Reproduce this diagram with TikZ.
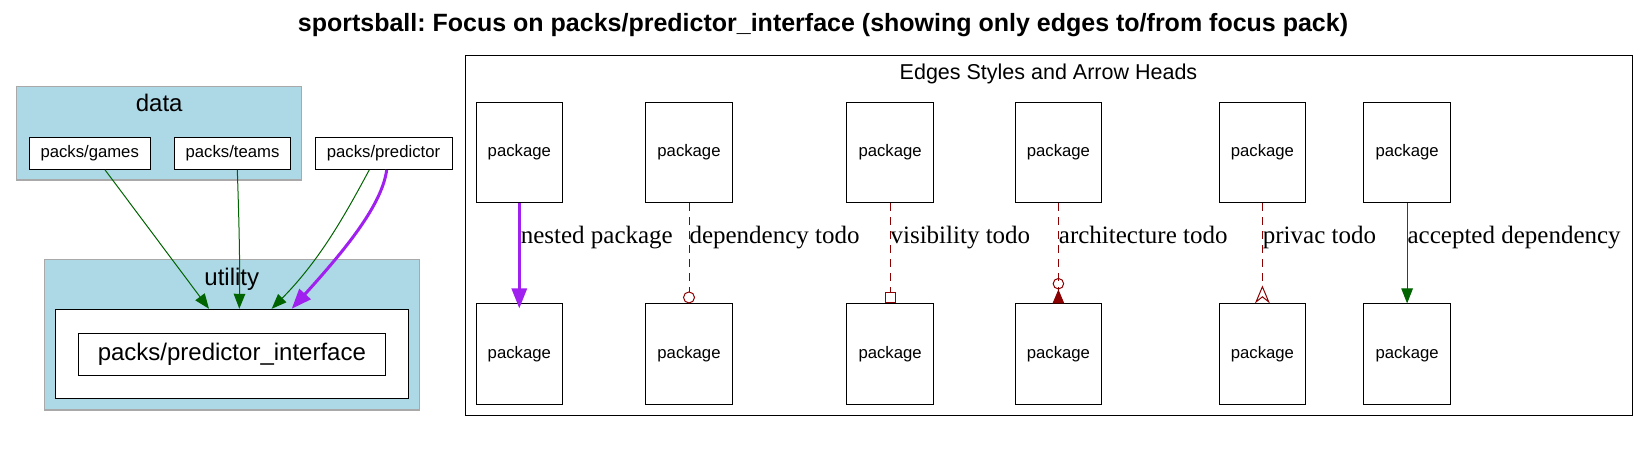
\documentclass[tikz,border=0pt]{standalone}
\usepackage{fontspec}
\usepackage{tikz}
\usetikzlibrary{arrows.meta}
\setmainfont{Liberation Sans}
\newfontfamily\edgefont{Liberation Serif}
\frenchspacing
\definecolor{clusterblue}{HTML}{ADD8E6}
\definecolor{clustergray}{HTML}{A9A9A9}
\definecolor{nestpurple}{HTML}{A020F0}
\definecolor{tododred}{HTML}{8B0000}
\definecolor{depgreen}{HTML}{006400}
\tikzset{
    cluster-box/.style = {draw=clustergray, fill=clusterblue, line width=1.2pt, rectangle, inner sep=0pt},
    cluster-title/.style = {inner sep=0pt, anchor=base, font=\fontsize{24}{28}\selectfont},
    pack-box/.style = {draw=black, fill=white, line width=1pt, rectangle, inner sep=0pt, minimum height=32.3pt, font=\fontsize{16.7}{20}\selectfont},
    legend-pack/.style = {draw=black, fill=white, line width=1pt, rectangle, inner sep=0pt, minimum width=86.5pt, minimum height=100.4pt, font=\fontsize{16.7}{20}\selectfont},
    edge-label/.style = {inner sep=0pt, anchor=base west, font=\edgefont\fontsize{25}{30}\selectfont},
    dep-edge/.style = {draw=depgreen, line width=1pt, -{Triangle[length=15pt, width=11.5pt]}},
    nested-edge/.style = {draw=nestpurple, line width=3pt, -{Triangle[length=20pt, width=15pt]}},
    todo-edge/.style = {draw=tododred, line width=1pt, dash pattern=on 8pt off 6pt},
}
\begin{document}
\begin{tikzpicture}[x=1pt, y=-1pt]
\useasboundingbox (0,0) rectangle (1649,461);
\node[anchor=base, inner sep=0pt, font=\bfseries\fontsize{25}{30}\selectfont] (title) at (823,31) {sportsball: Focus on packs/predictor\_interface (showing only edges to/from focus pack)};

% data cluster
\node[cluster-box, minimum width=285pt, minimum height=93.3pt] (data) at (159.2,133.35) {};
\node[cluster-title] (data-title) at (159.2,111.7) {data};
\node[pack-box, minimum width=121.3pt] (games) at (89.7,153.2) {packs/games};
\node[pack-box, minimum width=115.6pt] (teams) at (232.5,153.2) {packs/teams};
\node[pack-box, minimum width=137pt] (predictor) at (383.5,153.2) {packs/predictor};

% utility cluster
\node[cluster-box, minimum width=375pt, minimum height=150.7pt] (utility) at (231.8,334.65) {};
\node[cluster-title] (utility-title) at (231.8,285) {utility};
\node[draw, fill=white, line width=1pt, inner sep=0pt, minimum width=353pt, minimum height=89.4pt] (focus-frame) at (231.8,354) {};
\node[draw, fill=white, line width=1pt, inner sep=0pt, minimum width=306.3pt, minimum height=42.3pt, font=\fontsize{24}{28}\selectfont] (focus) at (231.85,354.2) {packs/predictor\_interface};

% edges to the focus pack
\draw[dep-edge] ([xshift=15.3pt]games.south) -- ([xshift=-22.8pt]focus-frame.north);
\draw[dep-edge] ([xshift=4.8pt]teams.south) .. controls (239,220) and (240,260) .. ([xshift=7.5pt]focus-frame.north);
\draw[dep-edge] ([xshift=-14.2pt]predictor.south) .. controls (345,215) and (320,260) .. ([xshift=39.9pt]focus-frame.north);
\draw[nested-edge] ([xshift=3.2pt]predictor.south) .. controls (382,205) and (345,250) .. ([xshift=59.9pt]focus-frame.north);

% legend
\node[draw, line width=1pt, inner sep=0pt, minimum width=1167pt, minimum height=360pt] (legend) at (1048.5,235) {};
\node[cluster-title, font=\fontsize{21.5}{26}\selectfont] (legend-title) at (1048.5,79.3) {Edges Styles and Arrow Heads};

\node[legend-pack] (a1) at (519.3,152.5) {package};
\node[legend-pack] (a2) at (689,152.5) {package};
\node[legend-pack] (a3) at (890.1,152.5) {package};
\node[legend-pack] (a4) at (1058.4,152.5) {package};
\node[legend-pack] (a5) at (1262.4,152.5) {package};
\node[legend-pack] (a6) at (1407.1,152.5) {package};
\node[legend-pack] (b1) at (519.3,354.15) {package};
\node[legend-pack] (b2) at (689,354.15) {package};
\node[legend-pack] (b3) at (890.1,354.15) {package};
\node[legend-pack] (b4) at (1058.4,354.15) {package};
\node[legend-pack] (b5) at (1262.4,354.15) {package};
\node[legend-pack] (b6) at (1407.1,354.15) {package};

\draw[nested-edge] (a1.south) -- node[edge-label, pos=0.382] (lbl-nested) {nested package} ([yshift=-5pt]b1.north);
\draw[todo-edge, -{Circle[open, length=12pt, width=12pt]}] (a2.south) -- node[edge-label, pos=0.4] (lbl-dependency) {dependency todo} (b2.north);
\draw[todo-edge, -{Square[open, length=11pt, width=11pt]}] (a3.south) -- node[edge-label, pos=0.4] (lbl-visibility) {visibility todo} (b3.north);
\draw[todo-edge, -{Circle[open, length=11.5pt, width=11.5pt] Triangle[reversed, length=14pt, width=11.6pt]}] (a4.south) -- node[edge-label, pos=0.4] (lbl-architecture) {architecture todo} (b4.north);
\draw[todo-edge, -{Stealth[reversed, open, length=18pt, width=15pt, inset=6pt]}] (a5.south) -- node[edge-label, pos=0.4] (lbl-privac) {privac todo} (b5.north);
\draw[dep-edge] (a6.south) -- node[edge-label, pos=0.4] (lbl-accepted) {accepted dependency} (b6.north);
\end{tikzpicture}
\end{document}
